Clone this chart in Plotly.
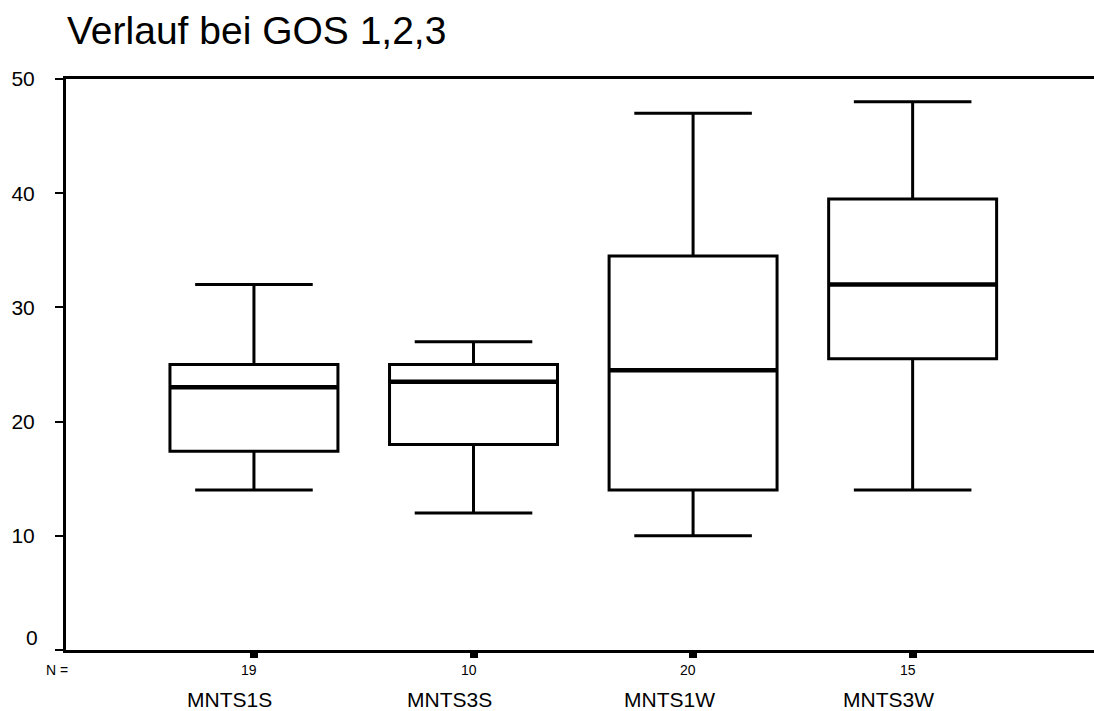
import plotly.graph_objects as go

# Summary statistics per variable
categories = ["MNTS1S", "MNTS3S", "MNTS1W", "MNTS3W"]
n_counts = [19, 10, 20, 15]
lower_whisker = [14, 12, 10, 14]
q1 = [17.4, 18, 14, 25.5]
median = [23, 23.5, 24.5, 32]
q3 = [25, 25, 34.5, 39.5]
upper_whisker = [32, 27, 47, 48]
y_ticks = [0, 10, 20, 30, 40, 50]

FONT = "Liberation Sans, Arial, sans-serif"
BOX_WIDTH = 0.765

fig = go.Figure()
for i, cat in enumerate(categories):
    fig.add_trace(go.Box(
        x=[cat], q1=[q1[i]], median=[median[i]], q3=[q3[i]],
        lowerfence=[lower_whisker[i]], upperfence=[upper_whisker[i]],
        width=BOX_WIDTH, whiskerwidth=0.7, boxpoints=False,
        fillcolor="white", line=dict(color="black", width=3),
        showlegend=False, hoverinfo="skip",
    ))
    # heavier median bar
    fig.add_shape(type="line", xref="x", yref="y",
                  x0=i - BOX_WIDTH / 2, x1=i + BOX_WIDTH / 2,
                  y0=median[i], y1=median[i],
                  line=dict(color="black", width=4.5))
    # sample size and variable name under each box
    fig.add_annotation(x=cat, y=0, xref="x", yref="y", text=str(n_counts[i]),
                       showarrow=False, yanchor="middle", xshift=-5, yshift=-20,
                       font=dict(family=FONT, size=14, color="black"))
    fig.add_annotation(x=cat, y=0, xref="x", yref="y", text=cat,
                       showarrow=False, yanchor="middle", xshift=-24, yshift=-49,
                       font=dict(family=FONT, size=21, color="black"))

fig.add_annotation(x=0, y=0, xref="paper", yref="y", text="N =",
                   showarrow=False, xanchor="center", yanchor="middle",
                   xshift=-9, yshift=-20,
                   font=dict(family=FONT, size=14, color="black"))

# the zero label sits a little above its tick
fig.add_annotation(x=0, y=y_ticks[0], xref="paper", yref="y", text=str(y_ticks[0]),
                   showarrow=False, xanchor="right", yanchor="middle",
                   xshift=-26, yshift=13,
                   font=dict(family=FONT, size=21, color="black"))

fig.update_layout(
    width=1094, height=711,
    margin=dict(l=66, r=0, t=79, b=61),
    paper_bgcolor="white", plot_bgcolor="white",
    title=dict(text="Verlauf bei GOS 1,2,3", xref="container", yref="container",
               x=67 / 1094, xanchor="left", y=1 - 30 / 711, yanchor="middle",
               font=dict(family=FONT, size=39, color="black")),
    font=dict(family=FONT, color="black"),
)
fig.update_xaxes(
    type="category", categoryorder="array", categoryarray=categories,
    range=[-0.856, 3.826], showgrid=False, zeroline=False,
    showline=True, linecolor="black", linewidth=3, mirror=True,
    ticks="outside", ticklen=5, tickwidth=8, tickcolor="black",
    showticklabels=False,
)
fig.update_yaxes(
    range=[0, 50], tickvals=y_ticks,
    ticktext=[""] + [str(v) for v in y_ticks[1:]],
    showgrid=False, zeroline=False,
    showline=True, linecolor="black", linewidth=3,
    ticks="outside", ticklen=8, tickwidth=2, tickcolor="black",
    ticklabelstandoff=16,
    tickfont=dict(family=FONT, size=21, color="black"),
)

fig.write_html("out.html")
